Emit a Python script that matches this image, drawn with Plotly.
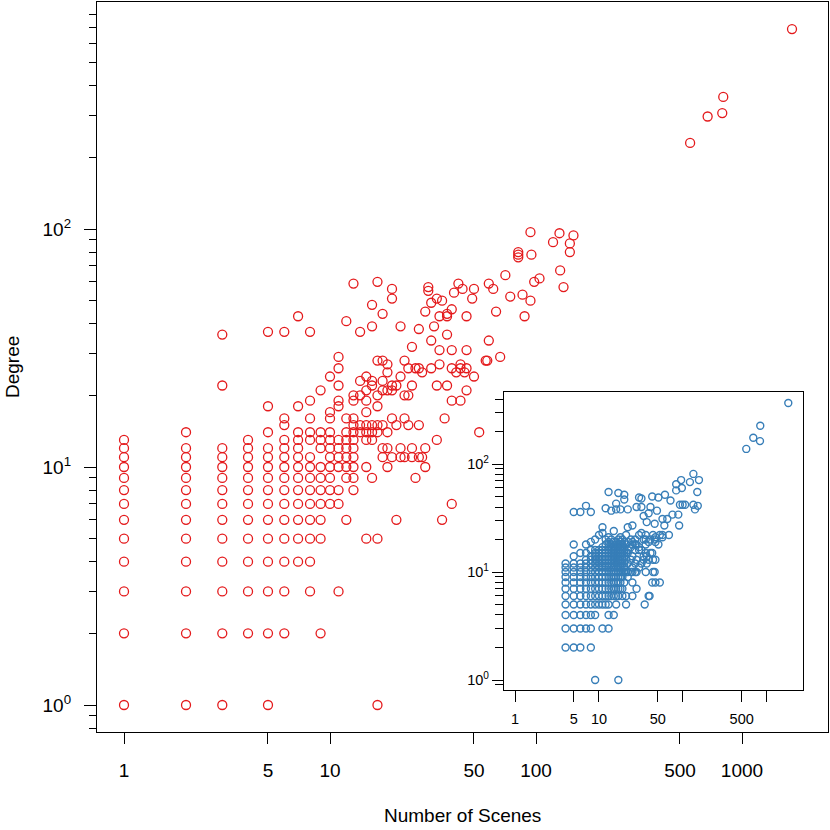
import plotly.graph_objects as go

# main network: number of scenes vs degree (one entry per character)
scenes = [
    1, 1, 1, 1, 1, 1, 1, 1, 1, 1, 1, 1, 1,
    2, 2, 2, 2, 2, 2, 2, 2, 2, 2, 2, 2, 2,
    3, 3, 3, 3, 3, 3, 3, 3, 3, 3, 3, 3, 3, 3,
    4, 4, 4, 4, 4, 4, 4, 4, 4, 4, 4, 4,
    5, 5, 5, 5, 5, 5, 5, 5, 5, 5, 5, 5, 5, 5, 5,
    6, 6, 6, 6, 6, 6, 6, 6, 6, 6, 6, 6, 6, 6, 6,
    7, 7, 7, 7, 7, 7, 7, 7, 7, 7, 7, 7, 7,
    8, 8, 8, 8, 8, 8, 8, 8, 8, 8, 8, 8, 8, 8,
    9, 9, 9, 9, 9, 9, 9, 9, 9, 9, 9,
    10, 10, 10, 10, 10, 10, 10, 10, 10, 10, 10,
    11, 11, 11, 11, 11, 11, 11, 11, 11, 11, 11, 11,
    12, 12, 12, 12, 12, 12, 12, 12, 12,
    13, 13, 13, 13, 13, 13, 13, 13, 13, 13, 13, 13,
    14, 14, 14, 14, 14,
    15, 15, 15, 15, 15, 15, 15, 15, 15,
    16, 16, 16, 16, 16, 16, 16, 16,
    17, 17, 17, 17, 17, 17, 17, 17,
    18, 18, 18, 18, 18, 18, 18,
    19, 19, 19, 19, 19, 19,
    20, 20, 20, 20, 20, 20,
    21, 21, 21,
    22, 22, 22, 22,
    23, 23, 23, 23,
    24, 24, 24,
    25, 25, 25, 25,
    26, 26,
    27, 27, 27, 27,
    28, 28,
    29, 29, 29,
    30, 30,
    31, 31, 31,
    32,
    33, 33, 33,
    34, 34, 34,
    35, 35,
    36,
    37, 37, 37, 37,
    39, 39, 39, 39, 39,
    40, 41, 42,
    43, 43, 43,
    44, 45,
    46, 46, 46, 46,
    49, 50, 50, 53, 57, 58, 59, 59, 62, 64, 67, 71, 75,
    82, 82, 82, 86, 88, 94, 94, 95, 98, 104,
    121, 130, 131, 136, 146, 146, 152,
    560, 681, 802, 811, 1749,
]
degree = [
    1, 2, 3, 4, 5, 6, 7, 8, 9, 10, 11, 12, 13,
    1, 2, 3, 4, 5, 6, 7, 8, 9, 10, 11, 12, 14,
    1, 2, 3, 4, 5, 6, 7, 8, 9, 10, 11, 12, 22, 36,
    2, 3, 4, 5, 6, 7, 8, 9, 10, 11, 12, 13,
    1, 2, 3, 4, 5, 6, 7, 8, 9, 10, 11, 12, 14, 18, 37,
    2, 3, 4, 5, 6, 7, 8, 9, 10, 11, 12, 13, 15, 16, 37,
    4, 5, 6, 7, 8, 9, 10, 11, 12, 13, 14, 18, 43,
    3, 4, 5, 6, 7, 8, 9, 10, 11, 13, 14, 16, 19, 37,
    2, 5, 6, 7, 8, 9, 10, 12, 13, 14, 21,
    7, 8, 9, 10, 11, 12, 13, 14, 16, 17, 24,
    3, 7, 8, 10, 11, 12, 13, 18, 19, 22, 26, 29,
    6, 9, 10, 11, 12, 13, 14, 16, 41,
    8, 9, 10, 11, 12, 13, 14, 15, 16, 19, 20, 59,
    14, 15, 20, 23, 37,
    5, 10, 13, 14, 15, 17, 19, 21, 24,
    9, 13, 14, 15, 22, 23, 39, 48,
    1, 5, 14, 15, 18, 20, 28, 60,
    11, 12, 15, 21, 23, 28, 44,
    10, 12, 14, 21, 25, 27,
    11, 16, 21, 22, 51, 56,
    6, 15, 22,
    11, 12, 24, 39,
    11, 16, 20, 28,
    15, 20, 26,
    11, 12, 22, 32,
    9, 26,
    11, 15, 26, 38,
    11, 25,
    10, 12, 45,
    55, 57,
    26, 34, 49,
    39,
    13, 22, 51,
    27, 31, 43,
    6, 50,
    16,
    22, 36, 43, 44,
    7, 19, 26, 31, 46,
    54, 25, 59,
    19, 26, 27,
    56, 25,
    21, 26, 31, 43,
    51, 24, 56, 14, 28, 28, 34, 59, 56, 45, 29, 64, 52,
    76, 78, 80, 53, 43, 50, 97, 78, 60, 62,
    88, 96, 67, 57, 80, 87, 94,
    230, 297, 307, 359, 692,
]

# inset network
scenes_inset = [
    4, 4, 4, 4, 4, 4, 4, 4, 4, 4, 4,
    5, 5, 5, 5, 5, 5, 5, 5, 5, 5, 5, 5, 5, 5,
    6, 6, 6, 6, 6, 6, 6, 6, 6, 6, 6, 6, 6,
    7, 7, 7, 7, 7, 7, 7, 7, 7, 7, 7, 7, 7, 7,
    8, 8, 8, 8, 8, 8, 8, 8, 8, 8, 8, 8, 8, 8, 8, 8,
    9, 9, 9, 9, 9, 9, 9, 9, 9, 9, 9, 9, 9, 9, 9,
    10, 10, 10, 10, 10, 10, 10, 10, 10, 10, 10, 10, 10,
    11, 11, 11, 11, 11, 11, 11, 11, 11, 11, 11, 11, 11, 11, 11, 11,
    12, 12, 12, 12, 12, 12, 12, 12, 12, 12, 12, 12, 12, 12, 12,
    13, 13, 13, 13, 13, 13, 13, 13, 13, 13, 13, 13, 13, 13, 13, 13, 13, 13,
    14, 14, 14, 14, 14, 14, 14, 14, 14, 14, 14, 14, 14, 14, 14,
    15, 15, 15, 15, 15, 15, 15, 15, 15, 15, 15, 15, 15, 15, 15,
    16, 16, 16, 16, 16, 16, 16, 16, 16, 16, 16, 16, 16, 16, 16, 16, 16,
    17, 17, 17, 17, 17, 17, 17, 17, 17, 17, 17, 17, 17, 17, 17, 17,
    18, 18, 18, 18, 18, 18, 18, 18, 18, 18, 18, 18, 18, 18, 18,
    19, 19, 19, 19, 19, 19, 19, 19, 19, 19, 19, 19,
    20, 20, 20, 20, 20, 20, 20, 20, 20, 20, 20,
    21, 21, 21, 21, 21, 21, 21,
    22, 22, 22, 22, 22, 22, 22, 22,
    24, 24, 24, 24,
    25, 25, 25, 25, 25, 25, 25, 25,
    27, 27, 27, 27, 27,
    28, 28, 28, 28, 28,
    30, 30, 30, 30, 30,
    32, 32, 32, 32, 32,
    34, 34, 34, 34,
    35,
    36, 36, 36, 36, 36,
    37, 37, 37,
    39, 39, 39, 39,
    40,
    41, 41, 41,
    43, 43, 43,
    44, 44, 44,
    46, 46, 46,
    47, 47, 47, 47,
    49, 51, 51, 53, 53, 57, 57, 57, 60, 61, 65, 68, 71, 75,
    83, 83, 88, 90, 92, 95, 97, 99, 106,
    121, 133, 133, 139, 148, 150, 155,
    567, 687, 826, 832, 1794,
]
degree_inset = [
    2, 3, 4, 5, 6, 7, 8, 9, 10, 11, 12,
    2, 3, 4, 5, 6, 7, 8, 9, 10, 11, 12, 14, 18, 36,
    2, 3, 4, 5, 6, 7, 8, 9, 10, 11, 12, 15, 36,
    3, 4, 5, 6, 7, 8, 9, 10, 11, 12, 13, 15, 18, 41,
    2, 3, 4, 5, 6, 7, 8, 9, 10, 11, 12, 13, 14, 16, 19, 36,
    1, 4, 5, 6, 7, 8, 9, 10, 11, 12, 13, 14, 15, 16, 20,
    5, 6, 7, 8, 9, 10, 11, 12, 13, 14, 15, 16, 22,
    3, 5, 6, 7, 8, 9, 10, 11, 12, 13, 14, 15, 16, 17, 23, 26,
    5, 6, 7, 8, 9, 10, 11, 12, 13, 14, 15, 16, 18, 20, 39,
    3, 4, 5, 6, 7, 8, 9, 10, 11, 12, 13, 14, 15, 16, 17, 19, 21, 55,
    6, 7, 8, 9, 10, 11, 12, 13, 14, 15, 16, 17, 18, 20, 37,
    4, 6, 7, 8, 9, 10, 11, 12, 13, 14, 15, 16, 17, 19, 24,
    5, 6, 7, 8, 9, 10, 11, 12, 13, 14, 15, 16, 17, 18, 19, 38, 43,
    1, 6, 7, 8, 9, 10, 11, 12, 13, 14, 15, 16, 17, 18, 20, 54,
    7, 8, 9, 10, 11, 12, 13, 14, 15, 16, 17, 18, 19, 21, 38,
    6, 7, 9, 10, 12, 13, 14, 15, 16, 17, 18, 20,
    8, 10, 11, 12, 14, 15, 16, 17, 19, 47, 52,
    5, 6, 10, 13, 15, 18, 22,
    9, 10, 12, 15, 16, 19, 26, 38,
    10, 13, 17, 20,
    6, 8, 10, 11, 14, 18, 19, 27,
    10, 12, 16, 18, 20,
    7, 10, 13, 18, 40,
    11, 16, 17, 22, 49,
    12, 16, 23, 40, 48,
    13, 14, 20, 33,
    5,
    10, 15, 18, 20, 22,
    12, 14, 29,
    6, 13, 19, 35,
    6,
    15, 20, 40,
    8, 15, 50,
    10, 13, 22,
    10, 20, 28,
    8, 13, 19, 21,
    37, 18, 49, 8, 22, 21, 22, 31, 27, 52, 31, 22, 46, 34,
    57, 65, 34, 27, 42, 71, 60, 42, 42,
    68, 42, 81, 38, 55, 41, 71,
    138, 175, 163, 226, 367,
]

x_tick_vals = [1, 5, 10, 50, 100, 500, 1000]
x_tick_text = ["1", "5", "10", "50", "100", "500", "1000"]
x_tick_text_inset = ["1", "5", "10", "50", "", "500", ""]
y_tick_vals = [1, 10, 100]
y_tick_text = ["10<sup>0</sup>", "10<sup>1</sup>", "10<sup>2</sup>"]
y_minor_vals = [0.8, 0.9, 2, 3, 4, 5, 6, 7, 8, 9,
                20, 30, 40, 50, 60, 70, 80, 90,
                200, 300, 400, 500, 600, 700, 800, 900]

W = 830
FONT = "Liberation Sans, Arial, sans-serif"

fig = go.Figure()

fig.add_trace(go.Scatter(
    x=scenes, y=degree, mode="markers", xaxis="x", yaxis="y",
    marker=dict(symbol="circle-open", size=9, color="#E41A1C", line=dict(width=1.3)),
    hoverinfo="x+y"
))

fig.add_trace(go.Scatter(
    x=scenes_inset, y=degree_inset, mode="markers", xaxis="x2", yaxis="y2",
    marker=dict(symbol="circle-open", size=7, color="#377EB8", line=dict(width=1.4)),
    hoverinfo="x+y"
))

axis_common = dict(
    type="log", showgrid=False, zeroline=False,
    showline=True, linecolor="black", linewidth=1.3, mirror=True,
    ticks="outside", tickcolor="black", tickwidth=1.3,
)

fig.update_layout(
    width=W, height=W,
    margin=dict(l=0, r=0, t=0, b=0),
    paper_bgcolor="white", plot_bgcolor="white",
    showlegend=False,
    font=dict(family=FONT, color="black"),
    # main panel
    xaxis=dict(
        **axis_common, domain=[97 / W, 828 / W], anchor="y",
        range=[-0.1311, 3.4175], ticklen=11,
        tickvals=x_tick_vals, ticktext=x_tick_text,
        tickfont=dict(size=19), ticklabelstandoff=10,
    ),
    yaxis=dict(
        **axis_common, domain=[98 / W, 828 / W], anchor="x",
        range=[-0.1134, 2.9538], ticklen=12,
        tickvals=y_tick_vals, ticktext=y_tick_text,
        tickfont=dict(size=19), ticklabelstandoff=9,
        minor=dict(ticks="outside", ticklen=7, tickcolor="black", tickwidth=1.3,
                   tickvals=y_minor_vals, showgrid=False),
    ),
    # inset panel
    xaxis2=dict(
        **axis_common, domain=[504 / W, 803 / W], anchor="y2",
        range=[-0.131, 3.429], ticklen=11,
        tickvals=x_tick_vals, ticktext=x_tick_text_inset,
        tickfont=dict(size=14.5), ticklabelstandoff=4,
    ),
    yaxis2=dict(
        **axis_common, domain=[140 / W, 438 / W], anchor="x2",
        range=[-0.0926, 2.667], ticklen=11,
        tickvals=y_tick_vals, ticktext=y_tick_text,
        tickfont=dict(size=14.5), ticklabelstandoff=0,
        minor=dict(ticks="outside", ticklen=8, tickcolor="black", tickwidth=1.3,
                   tickvals=y_minor_vals, showgrid=False),
    ),
    annotations=[
        dict(text="Number of Scenes", xref="paper", yref="paper",
             x=462.5 / W, y=(W - 815) / W, showarrow=False,
             xanchor="center", yanchor="middle", font=dict(size=19)),
        dict(text="Degree", xref="paper", yref="paper",
             x=12 / W, y=(W - 367) / W, showarrow=False, textangle=-90,
             xanchor="center", yanchor="middle", font=dict(size=19)),
    ],
)

# drop the browser's default page margin so the figure sits at the window corner
fig.write_html("out.html", config={"displayModeBar": False},
               post_script="document.body.style.margin='0';")
